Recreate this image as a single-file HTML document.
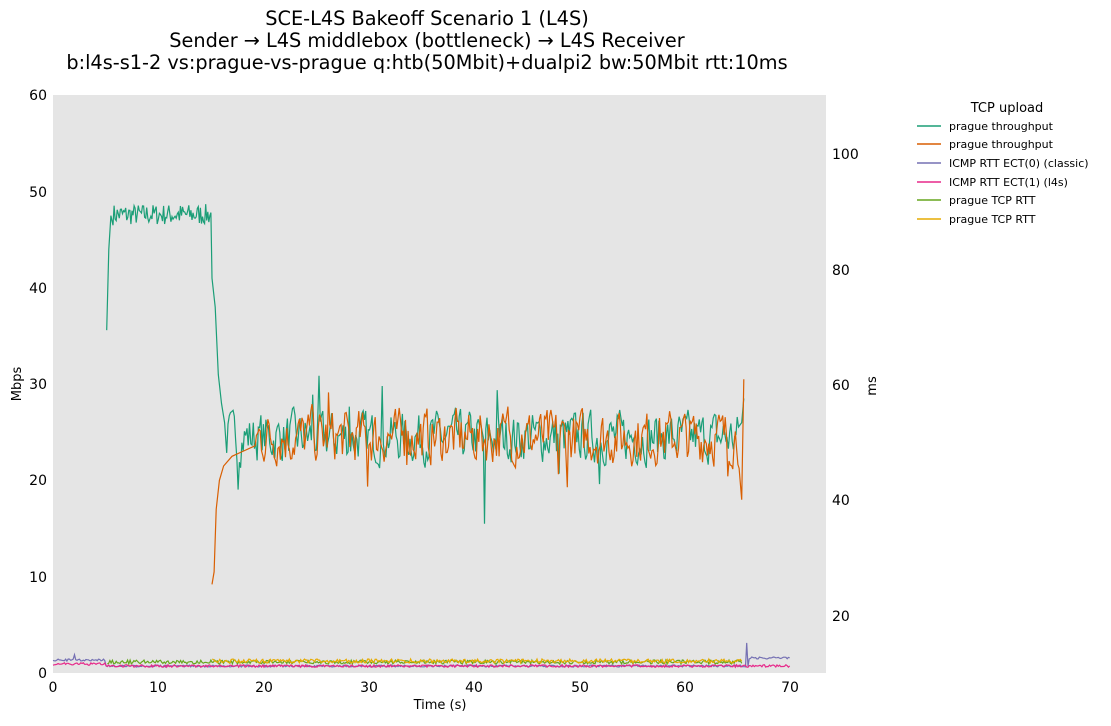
<!DOCTYPE html>
<html><head><meta charset="utf-8"><style>
body{margin:0;background:#fff;font-family:"Liberation Sans","DejaVu Sans",sans-serif;}
svg text{font-family:"DejaVu Sans","Liberation Sans",sans-serif;}
</style></head><body>
<svg id="s" width="1111" height="721" xmlns="http://www.w3.org/2000/svg">
<rect x="53" y="95" width="773" height="578" fill="#e5e5e5"/>
<g font-size="19.3" text-anchor="middle" fill="#000">
<text x="427" y="25">SCE-L4S Bakeoff Scenario 1 (L4S)</text>
<text x="427" y="47">Sender → L4S middlebox (bottleneck) → L4S Receiver</text>
<text x="427" y="69">b:l4s-s1-2 vs:prague-vs-prague q:htb(50Mbit)+dualpi2 bw:50Mbit rtt:10ms</text>
</g>
<g font-size="14" fill="#000" text-anchor="end">
<text x="47" y="678">0</text><text x="47" y="582">10</text><text x="47" y="485">20</text>
<text x="47" y="389">30</text><text x="47" y="293">40</text><text x="47" y="197">50</text><text x="47" y="100">60</text>
</g>
<g font-size="14" fill="#000">
<text x="832" y="621">20</text><text x="832" y="505">40</text><text x="832" y="390">60</text>
<text x="832" y="275">80</text><text x="832" y="159">100</text>
</g>
<g font-size="14" fill="#000" text-anchor="middle">
<text x="53" y="692">0</text><text x="158" y="692">10</text><text x="264" y="692">20</text>
<text x="369" y="692">30</text><text x="474" y="692">40</text><text x="580" y="692">50</text>
<text x="685" y="692">60</text><text x="790" y="692">70</text>
<text x="440" y="709" font-size="13">Time (s)</text>
</g>
<text x="21" y="384" font-size="13" transform="rotate(-90 21 384)" text-anchor="middle">Mbps</text>
<text x="876" y="386" font-size="13" transform="rotate(-90 876 386)" text-anchor="middle">ms</text>
<g id="d" fill="none" stroke-width="1.2"></g>
<g font-size="11" fill="#000">
<text x="1007" y="112" font-size="13" text-anchor="middle">TCP upload</text>
<line x1="917" y1="126" x2="941" y2="126" stroke="#1b9e77" stroke-width="1.5"/><text x="949" y="130">prague throughput</text>
<line x1="917" y1="144" x2="941" y2="144" stroke="#d95f02" stroke-width="1.5"/><text x="949" y="148">prague throughput</text>
<line x1="917" y1="163" x2="941" y2="163" stroke="#7570b3" stroke-width="1.5"/><text x="949" y="167">ICMP RTT ECT(0) (classic)</text>
<line x1="917" y1="182" x2="941" y2="182" stroke="#e7298a" stroke-width="1.5"/><text x="949" y="186">ICMP RTT ECT(1) (l4s)</text>
<line x1="917" y1="200" x2="941" y2="200" stroke="#66a61e" stroke-width="1.5"/><text x="949" y="204">prague TCP RTT</text>
<line x1="917" y1="219" x2="941" y2="219" stroke="#e6ab02" stroke-width="1.5"/><text x="949" y="223">prague TCP RTT</text>
</g>
</svg>
<script>
var seed=7;function r(){seed=(seed*16807)%2147483647;return seed/2147483647-0.5;}
var X=function(t){return 53+t*10.53},Y=function(v){return 673-v*9.63};
var g=document.getElementById('d');
function path(pts,c){var p=document.createElementNS('http://www.w3.org/2000/svg','path');
p.setAttribute('d','M'+pts.map(function(a){return X(a[0]).toFixed(1)+' '+a[1].toFixed(1)}).join('L'));
p.setAttribute('stroke',c);g.appendChild(p);}
var gr=[[5.1,Y(35.6)],[5.3,Y(44)],[5.5,Y(47.5)]],t;
for(t=5.7;t<15;t+=0.1)gr.push([t,Y(47.6+r()*2.2)]);
gr.push([15.1,Y(41)],[15.4,Y(38)],[15.7,Y(31)],[16,Y(28)],[16.3,Y(26)]);
var v=24.5;for(t=16.5;t<65.2;t+=0.12){v=v*0.35+0.65*(24.5+r()*7);var w=v+(Math.random()<0.02?(Math.random()<0.5?3.5:-3.5):0);if(Math.abs(t-41)<0.06)w=15.5;gr.push([t,Y(w)]);}
gr.push([65.4,Y(26)],[65.6,Y(28.5)]);
var ob=[[15.1,Y(9.2)],[15.3,Y(10.5)],[15.5,Y(17)],[15.8,Y(20)],[16.2,Y(21.5)],[17,Y(22.5)],[18,Y(23)],[19,Y(23.5)]];
v=24.5;for(t=19.2;t<65.2;t+=0.12){v=v*0.35+0.65*(24.5+r()*7.5);ob.push([t,Y(v+(Math.random()<0.02?(Math.random()<0.5?3.5:-3.5):0))]);}
ob.push([65.4,Y(18)],[65.6,Y(30.5)]);
path(gr,'#1b9e77');path(ob,'#d95f02');
var ic=[],il=[],tg=[],ty=[];
for(t=0;t<70;t+=0.12){ic.push([t,(t<5?660:666)+r()*2+(Math.abs(t-2)<0.06?-6:0)+(Math.abs(t-65.9)<0.06?-24:0)+(t>66?-8:0)]);
il.push([t,(t<5?664:666)+r()*2.5]);
if(t>5.1&&t<65.5)tg.push([t,662+r()*4]);if(t>15&&t<65.5)ty.push([t,661+r()*4]);}
path(ic,'#7570b3');path(tg,'#66a61e');path(ty,'#e6ab02');path(il,'#e7298a');
</script>
</body></html>
